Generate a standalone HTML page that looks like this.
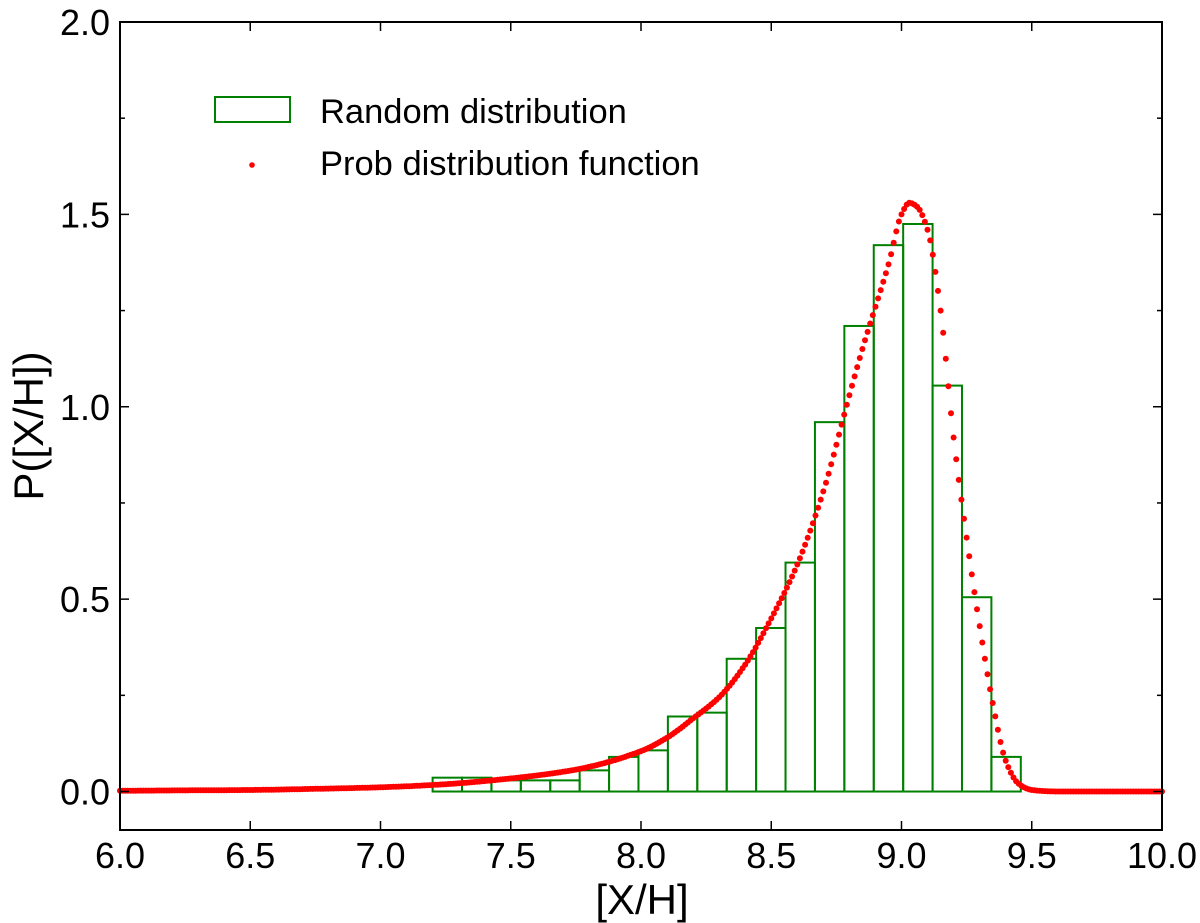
<!DOCTYPE html>
<html><head><meta charset="utf-8"><style>
body{margin:0;background:#fff}
svg{display:block}
text{font-family:"Liberation Sans","DejaVu Sans",sans-serif;fill:#000}
</style></head><body>
<svg id="chart" width="1200" height="923" viewBox="0 0 1200 923" xmlns="http://www.w3.org/2000/svg">
<g id="plot"></g>
<g id="axes"></g>
<g>
<rect x="215" y="97" width="75" height="25" fill="none" stroke="#008000" stroke-width="2"/>
<text x="320" y="123" font-size="34.5">Random distribution</text>
<circle cx="252" cy="165" r="2.8" fill="#ff0000"/>
<text x="320" y="175" font-size="34.5">Prob distribution function</text>
</g>
<text x="642" y="914" font-size="42" text-anchor="middle">[X/H]</text>
<text transform="translate(43,426) rotate(-90)" font-size="42" text-anchor="middle">P([X/H])</text>
</svg>
<script>
const binStart = 7.2;
const binWidth = 0.1129;
const binHeights = [0.036,0.036,0.029,0.029,0.029,0.055,0.09,0.107,0.195,0.205,0.345,0.425,0.595,0.96,1.21,1.42,1.475,1.055,0.505,0.09];
const pdfX = [6.0,6.25,6.5,6.75,7.0,7.25,7.5,7.75,8.0,8.1,8.2,8.3,8.4,8.5,8.6,8.7,8.8,8.85,8.9,8.95,9.0,9.03,9.06,9.1,9.15,9.2,9.25,9.3,9.35,9.4,9.45,9.5,9.55,9.6,9.8,10.0];
const pdfY = [0.002,0.003,0.004,0.007,0.011,0.019,0.034,0.057,0.105,0.14,0.19,0.245,0.33,0.45,0.59,0.78,1.03,1.15,1.26,1.37,1.5,1.53,1.52,1.46,1.25,0.92,0.66,0.43,0.23,0.08,0.02,0.004,0.001,0,0,0];
const xTicks = [6.0,6.5,7.0,7.5,8.0,8.5,9.0,9.5,10.0];
const yTicks = [0.0,0.5,1.0,1.5,2.0];
const yMinor = [0.25,0.75,1.25,1.75];

const L=120,R=1162,T=22,B=830,xMin=6,xMax=10,yMin=-0.1,yMax=2.0;
const sx=v=>L+(v-xMin)/(xMax-xMin)*(R-L);
const sy=v=>B-(v-yMin)/(yMax-yMin)*(B-T);
const NS='http://www.w3.org/2000/svg';
const plot=document.getElementById('plot'), axes=document.getElementById('axes');
function mk(tag,attrs,parent){const e=document.createElementNS(NS,tag);for(const k in attrs)e.setAttribute(k,attrs[k]);parent.appendChild(e);return e;}

binHeights.forEach((h,i)=>{
  const x0=sx(binStart+i*binWidth), x1=sx(binStart+(i+1)*binWidth);
  const r=mk('rect',{x:x0,y:sy(h),width:x1-x0,height:sy(0)-sy(h),fill:'none',stroke:'#008000','stroke-width':2},plot);
  
  
});

// monotone cubic (Fritsch-Carlson) through the data, for smooth rendering
const n=pdfX.length;
const dk=[],mt=[];
for(let i=0;i<n-1;i++) dk.push((pdfY[i+1]-pdfY[i])/(pdfX[i+1]-pdfX[i]));
mt[0]=dk[0]; mt[n-1]=dk[n-2];
for(let i=1;i<n-1;i++){
  if(dk[i-1]*dk[i]<=0) mt[i]=0;
  else{const h0=pdfX[i]-pdfX[i-1],h1=pdfX[i+1]-pdfX[i];const w1=2*h1+h0,w2=h1+2*h0;mt[i]=(w1+w2)/(w1/dk[i-1]+w2/dk[i]);}
}
function pdfAt(x){
  let i=0; while(i<n-2 && x>pdfX[i+1]) i++;
  const h=pdfX[i+1]-pdfX[i], t=(x-pdfX[i])/h, t2=t*t, t3=t2*t;
  return (2*t3-3*t2+1)*pdfY[i]+(t3-2*t2+t)*h*mt[i]+(-2*t3+3*t2)*pdfY[i+1]+(t3-t2)*h*mt[i+1];
}
const pdfG=mk('g',{fill:'#ff0000'},plot);


const N=400;
for(let k=0;k<=N;k++){
  const x=pdfX[0]+(pdfX[n-1]-pdfX[0])*k/N;
  const c=mk('circle',{cx:sx(x).toFixed(1),cy:sy(pdfAt(x)).toFixed(1),r:3},pdfG);
  
  
}

const frame=mk('rect',{x:L,y:T,width:R-L,height:B-T,fill:'none',stroke:'#000','stroke-width':2},axes);



xTicks.forEach(v=>{
  const x=sx(v);
  mk('line',{x1:x,y1:B,x2:x,y2:B-9,stroke:'#000','stroke-width':1.5},axes);
  mk('line',{x1:x,y1:T,x2:x,y2:T+9,stroke:'#000','stroke-width':1.5},axes);
  const t=mk('text',{x:x,y:868,'font-size':36,'text-anchor':'middle'},axes);
  t.textContent=v.toFixed(1);
  
  
});
yTicks.forEach(v=>{
  const y=sy(v);
  mk('line',{x1:L,y1:y,x2:L+9,y2:y,stroke:'#000','stroke-width':1.5},axes);
  mk('line',{x1:R,y1:y,x2:R-9,y2:y,stroke:'#000','stroke-width':1.5},axes);
  const t=mk('text',{x:110,y:y+13,'font-size':36,'text-anchor':'end'},axes);
  t.textContent=v.toFixed(1);
  
  
});
yMinor.forEach(v=>{
  const y=sy(v);
  mk('line',{x1:L,y1:y,x2:L+5,y2:y,stroke:'#000','stroke-width':1.5},axes);
  mk('line',{x1:R,y1:y,x2:R-5,y2:y,stroke:'#000','stroke-width':1.5},axes);
});
</script>
</body></html>
